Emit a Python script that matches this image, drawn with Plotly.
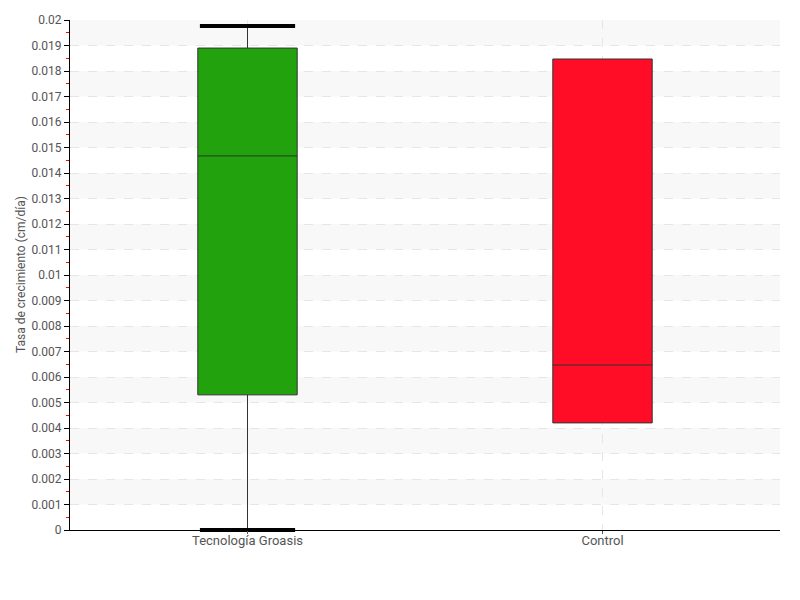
import plotly.graph_objects as go

categorias = ['Tecnología Groasis', 'Control']
q1 = [0.0053, 0.0042]
mediana = [0.01467, 0.00647]
q3 = [0.0189, 0.01847]
bigote_inf = [0.0, 0.0042]
bigote_sup = [0.01976, 0.01847]
colores = ['#22a30e', '#ff0d26']

fig = go.Figure()

# bandas alternas del fondo
for i in range(1, 20, 2):
    fig.add_shape(type='rect', xref='paper', yref='y', x0=0, x1=1,
                  y0=i * 0.001, y1=(i + 1) * 0.001,
                  fillcolor='#f8f8f8', line_width=0, layer='below')

for i, cat in enumerate(categorias):
    fig.add_trace(go.Box(
        x=[cat], q1=[q1[i]], median=[mediana[i]], q3=[q3[i]],
        lowerfence=[bigote_inf[i]], upperfence=[bigote_sup[i]],
        fillcolor=colores[i], line=dict(color='#333333', width=1),
        whiskerwidth=0, width=0.28, boxpoints=False,
        showlegend=False, hoverinfo='y',
    ))

# topes de los bigotes (solo donde hay bigote)
cap_x = [categorias[i] for i in range(2) if bigote_sup[i] != q3[i]]
cap_y = [bigote_sup[i] for i in range(2) if bigote_sup[i] != q3[i]]
cap_x += [categorias[i] for i in range(2) if bigote_inf[i] != q1[i]]
cap_y += [bigote_inf[i] for i in range(2) if bigote_inf[i] != q1[i]]
fig.add_trace(go.Scatter(
    x=cap_x, y=cap_y, mode='markers', showlegend=False, hoverinfo='skip',
    marker=dict(symbol='line-ew', size=68, line=dict(color='black', width=4)),
    cliponaxis=False,
))

# título del eje y como anotación para controlar su posición
fig.add_annotation(
    text='Tasa de crecimiento (cm/día)', textangle=-90,
    xref='paper', yref='paper', x=0, y=0.5, xanchor='center', yanchor='middle',
    xshift=-49, showarrow=False, font=dict(size=12, color='#555555'),
)

fig.update_layout(
    width=800, height=600,
    margin=dict(l=62, r=28, t=12, b=78),
    plot_bgcolor='white', paper_bgcolor='white',
    font=dict(family='Roboto, sans-serif', size=13, color='#555555'),
    showlegend=False,
)
fig.update_xaxes(
    type='category', range=[-0.5, 1.5], automargin=False,
    showline=True, linecolor='black', linewidth=1,
    showgrid=True, gridcolor='#e6e6e6', griddash='dash',
    ticks='outside', ticklen=3, tickcolor='#555555',
    ticklabelstandoff=-5,
    tickfont=dict(size=13),
)
fig.update_yaxes(
    range=[0, 0.02], dtick=0.001, tick0=0, automargin=False,
    showline=True, linecolor='black', linewidth=1,
    showgrid=True, gridcolor='#e6e6e6', griddash='dash',
    ticks='outside', ticklen=5, tickcolor='black',
    minor=dict(dtick=0.0005, ticks='outside', ticklen=3, tickcolor='red', showgrid=False),
    zeroline=False,
    tickfont=dict(size=12),
)

fig.write_html("out.html")
